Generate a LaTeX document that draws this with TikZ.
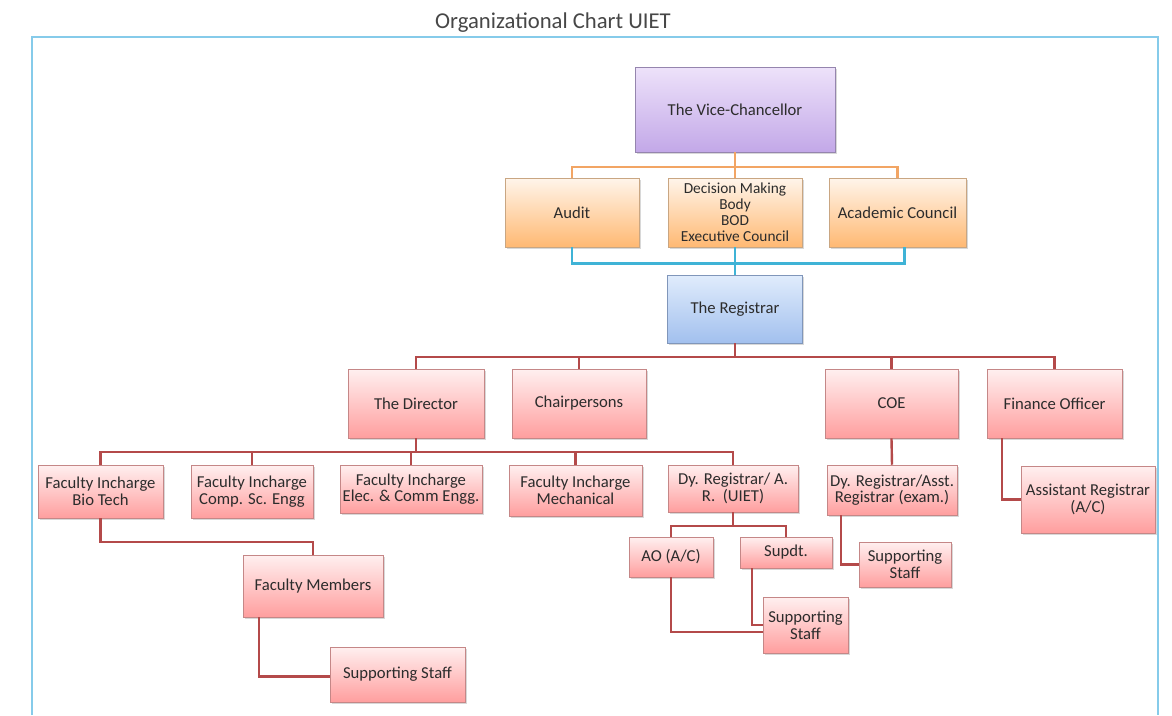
\documentclass[tikz,border=0pt]{standalone}
\usepackage{fontspec}
\setmainfont{Carlito}
\usetikzlibrary{calc,shadows}
\definecolor{txt}{HTML}{2C2C2C}
\definecolor{frameblue}{HTML}{86CBEA}
\definecolor{olinec}{HTML}{F2A564}
\definecolor{blinec}{HTML}{3FB3D6}
\definecolor{rlinec}{HTML}{B44A4A}
\definecolor{vctop}{HTML}{EDE2FA}
\definecolor{vcbot}{HTML}{C3A8E8}
\definecolor{vcdraw}{HTML}{9585AE}
\definecolor{regtop}{HTML}{E0ECFC}
\definecolor{regbot}{HTML}{A2C0EE}
\definecolor{regdraw}{HTML}{8096BA}
\begin{document}
\begin{tikzpicture}[x=0.75pt,y=-0.75pt,
  sz/.style 2 args={minimum width=#1*0.75pt, minimum height=#2*0.75pt},
  box/.style={rectangle, inner sep=1pt, align=center, text=txt,
    font=\fontsize{12.5}{12.5}\selectfont,
    drop shadow={opacity=0.3, shadow xshift=1.2pt, shadow yshift=-1.2pt}},
  vcbox/.style={box, draw=vcdraw, top color=vctop, bottom color=vcbot},
  obox/.style={box, draw=orange!40!gray!70, top color=orange!8, bottom color=orange!55!white},
  bbox/.style={box, draw=regdraw, top color=regtop, bottom color=regbot},
  rbox/.style={box, draw=red!35!gray!70, top color=red!6, bottom color=red!38!white},
  oline/.style={draw=olinec, line width=1.8pt},
  bline/.style={draw=blinec, line width=2pt},
  rline/.style={draw=rlinec, line width=1.8pt},
  frame/.style={draw=frameblue, line width=2pt}
]
\useasboundingbox (0,0) rectangle (1172,715);
\fill[white] (0,0) rectangle (1172,715);
\draw[frame] (32,715) -- (32,37) -- (1158,37) -- (1158,715);
\node[text=black!72, font=\fontsize{17}{18}\selectfont] (title) at (553,23) {Organizational Chart UIET};

% nodes
\node[vcbox, sz={200}{85}] (vc) at (735,109.5) {The Vice-Chancellor};
\node[obox, sz={134}{69}] (audit) at (572,212.5) {Audit};
\node[obox, sz={134}{69}, inner sep=0pt, font=\fontsize{11.5}{12}\selectfont] (dmb) at (735,212.5) {Decision Making\\Body\\BOD\\Executive Council};
\node[obox, sz={137}{69}] (acad) at (897.5,212.5) {Academic Council};
\node[bbox, sz={135}{68}] (reg) at (735,309) {The Registrar};

\node[rbox, sz={136}{69}] (dir) at (416,403.5) {The Director};
\node[rbox, sz={134}{69}] (chair) at (579,403.5) {Chairpersons};
\node[rbox, sz={133}{69}] (coe) at (891.5,403.5) {COE};
\node[rbox, sz={135}{69}] (fin) at (1054.5,403.5) {Finance Officer};

\node[rbox, sz={125}{53}] (fbio) at (100.5,491.5) {Faculty Incharge\\Bio Tech};
\node[rbox, sz={122}{53}] (fcs) at (252,491.5) {Faculty Incharge\\Comp. Sc. Engg};
\node[rbox, sz={142}{48}] (fel) at (411,489) {Faculty Incharge\\Elec. \& Comm Engg.};
\node[rbox, sz={133}{51}] (fme) at (575.5,490.5) {Faculty Incharge\\Mechanical};
\node[rbox, sz={130}{47}] (dyr) at (733,488.5) {Dy. Registrar/ A.\\R.~~(UIET)};

\node[rbox, sz={84}{40}] (ao) at (671,557) {AO (A/C)};
\node[rbox, sz={92}{31}] (sup) at (786,552.5) {Supdt.};
\node[rbox, sz={85}{56}] (ss3) at (805.5,625) {Supporting\\Staff};

\node[rbox, sz={140}{62}] (fm) at (313,586) {Faculty Members};
\node[rbox, sz={135}{55}] (ss1) at (397.5,674.5) {Supporting Staff};

\node[rbox, sz={130}{50}] (dre) at (892,490) {Dy. Registrar/Asst.\\Registrar (exam.)};
\node[rbox, sz={92}{45}] (ss2) at (905,564.5) {Supporting\\Staff};
\node[rbox, sz={134}{67}] (ar) at (1088,499.5) {Assistant Registrar\\(A/C)};

% connectors
\draw[oline] (vc.south) -- (dmb.north);
\draw[oline] (audit.north) -- ++(0,-11) -| (acad.north);
\draw[bline] (audit.south) -- ++(0,16) -| ($(acad.south)+(7,0)$);
\draw[bline] (dmb.south) -- (reg.north);

\draw[rline] (reg.south) -- ++(0,14);
\draw[rline] (dir.north) -- ++(0,-12) -| (fin.north);
\draw[rline] (chair.north) -- ++(0,-12);
\draw[rline] (coe.north) -- ++(0,-12);

\draw[rline] (dir.south) -- ++(0,14);
\draw[rline] (fbio.north) -- ++(0,-13) -| (dyr.north);
\draw[rline] (fcs.north) -- ++(0,-13);
\draw[rline] (fel.north) -- ++(0,-13);
\draw[rline] (fme.north) -- ++(0,-13);

\draw[rline] (dyr.south) -- ++(0,14);
\draw[rline] (ao.north) -- ++(0,-11) -| (sup.north);
\draw[rline] (ao.south) |- ($(ss3.west)+(0,7)$);
\draw[rline] ($(sup.south west)+(12,0)$) |- (ss3.west);

\draw[rline] (fbio.south) -- ++(0,24) -| (fm.north);
\draw[rline] ($(fm.south west)+(16,0)$) |- ($(ss1.west)+(0,2)$);

\draw[rline] (coe.south) -- (dre.north);
\draw[rline] ($(dre.south west)+(14,0)$) |- (ss2.west);
\draw[rline] ($(fin.south west)+(15,0)$) |- (ar.west);
\end{tikzpicture}
\end{document}
